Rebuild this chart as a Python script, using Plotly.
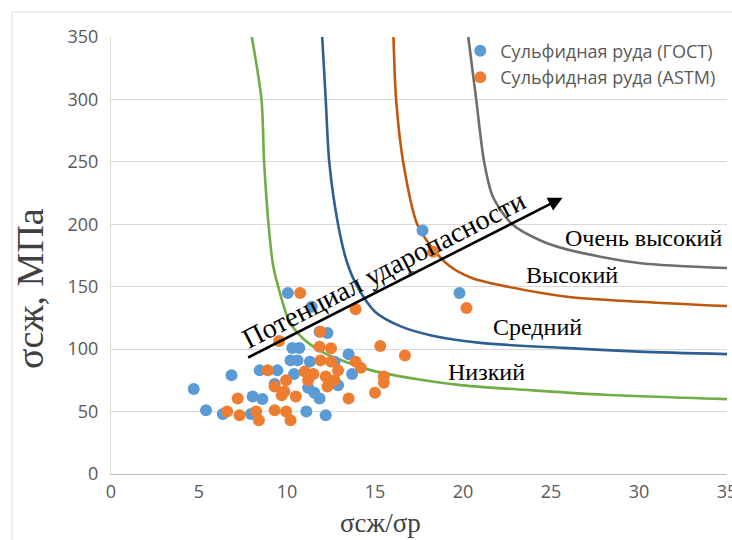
import plotly.graph_objects as go

# ---- data ----
gost_x = [4.7, 5.4, 6.35, 6.85, 7.95, 8.05, 8.6, 8.45, 9.45, 9.3, 10.05, 10.3, 10.7, 10.2, 10.6,
          10.4, 11.3, 11.4, 11.85, 12.3, 11.55, 11.85, 11.1, 12.2, 12.7, 12.9, 13.5, 13.7, 11.2,
          17.7, 19.8]
gost_y = [68, 51, 48, 79, 48, 62, 60, 83, 83, 72, 145, 101, 101, 91, 91,
          80, 90, 134, 114, 113, 65, 60.5, 50, 47, 90, 71, 96, 80, 69,
          195, 145]

astm_x = [6.6, 7.3, 7.2, 8.25, 8.4, 8.9, 9.55, 9.3, 9.85, 9.95, 9.3, 9.95, 10.2, 10.5, 10.75,
          11.0, 11.2, 11.9, 11.85, 12.5, 11.9, 12.5, 12.9, 12.2, 12.3, 13.9, 13.9, 14.2, 15.3,
          16.7, 15.5, 15.5, 15.0, 13.5, 18.3, 20.2, 11.5, 12.7, 9.7]
astm_y = [50, 47, 60.5, 50, 43, 83, 106.5, 70, 66, 75, 51, 50, 43, 62, 145,
          82, 75, 114, 102, 100.7, 91, 90, 83, 78, 70, 132, 90, 85, 102.5,
          95, 78, 73, 65, 60.5, 178, 133, 80, 75, 63]

low_x = [8.0, 8.55, 8.7, 8.95, 9.2, 9.5, 10.1, 10.6, 11.2, 12.1, 13.2, 14.8, 17.6, 20.0, 24.0, 28.0, 35.0]
low_y = [350, 300, 250, 200, 168, 150, 123, 113, 105, 97, 90.5, 83, 75.5, 71, 67, 63.5, 60]

mid_x = [12.0, 12.2, 12.4, 12.9, 13.4, 14.0, 15.0, 16.5, 18.2, 21.0, 25.7, 30.0, 35.0]
mid_y = [350, 300, 250, 200, 170, 150, 130, 118, 111, 105, 101, 98, 96]

high_x = [16.05, 16.2, 16.6, 17.4, 18.2, 19.2, 20.5, 22.2, 25.9, 30.0, 35.0]
high_y = [350, 300, 250, 200, 182, 167, 157, 151, 142, 138, 134.5]

vhigh_x = [20.3, 20.75, 21.2, 21.7, 22.8, 24.4, 26.0, 30.0, 35.0]
vhigh_y = [350, 300, 250, 222, 200, 187, 179.5, 169, 165]

x_ticks = [0, 5, 10, 15, 20, 25, 30, 35]
y_ticks = [0, 50, 100, 150, 200, 250, 300, 350]

curve_labels = ["Низкий", "Средний", "Высокий", "Очень высокий"]

# ---- figure ----
fig = go.Figure()

curves = [
    (low_x, low_y, "#70AD47"),
    (mid_x, mid_y, "#2E5F92"),
    (high_x, high_y, "#C0570F"),
    (vhigh_x, vhigh_y, "#6E6E6E"),
]
for cx, cy, col in curves:
    fig.add_trace(go.Scatter(x=cx, y=cy, mode="lines", showlegend=False, hoverinfo="skip",
                             line=dict(color=col, width=2.6, shape="spline", smoothing=0.8)))

fig.add_trace(go.Scatter(x=gost_x, y=gost_y, mode="markers", name="Сульфидная руда (ГОСТ)",
                         marker=dict(color="#5B9BD5", size=12)))
fig.add_trace(go.Scatter(x=astm_x, y=astm_y, mode="markers", name="Сульфидная руда (ASTM)",
                         marker=dict(color="#ED7D31", size=12)))

serif = "Liberation Serif, Times New Roman, serif"
ann = [
    dict(x=21.34, y=81.3, text=curve_labels[0]),
    dict(x=24.23, y=118, text=curve_labels[1]),
    dict(x=26.19, y=159, text=curve_labels[2]),
    dict(x=30.26, y=189.4, text=curve_labels[3]),
]
annotations = []
for a in ann:
    annotations.append(dict(x=a["x"], y=a["y"], xref="x", yref="y", text=a["text"], showarrow=False,
                            font=dict(family=serif, size=24, color="black")))

# arrow
annotations.append(dict(x=25.66, y=221.3, ax=7.71, ay=92.7, xref="x", yref="y", axref="x", ayref="y",
                        text="", showarrow=True, arrowhead=2, arrowsize=1.1, arrowwidth=2.6,
                        arrowcolor="black"))
annotations.append(dict(x=15.5, y=164, xref="x", yref="y", text="Потенциал ударопасности",
                        showarrow=False, textangle=-27,
                        font=dict(family=serif, size=28, color="black")))
# axis titles
annotations.append(dict(x=-0.1315, y=0.4256, xref="paper", yref="paper", text="σсж, МПа",
                        showarrow=False, textangle=-90, xanchor="center", yanchor="middle",
                        font=dict(family=serif, size=38, color="#404040")))
annotations.append(dict(x=0.4367, y=-0.112, xref="paper", yref="paper", text="σсж/σр",
                        showarrow=False, xanchor="center", yanchor="middle",
                        font=dict(family=serif, size=27, color="#404040")))

fig.update_layout(
    width=732, height=540, autosize=False,
    margin=dict(l=111, r=5, t=37, b=66, autoexpand=False),
    paper_bgcolor="white", plot_bgcolor="white",
    font=dict(family="Open Sans, sans-serif", size=17, color="#595959"),
    xaxis=dict(range=[0, 35], tickvals=x_ticks, showgrid=False, zeroline=False, automargin=False,
               showline=True, linecolor="#BFBFBF", linewidth=1, ticks="",
               ticklabelstandoff=1, ticklabeloverflow="allow",
               tickfont=dict(size=18, color="#595959")),
    yaxis=dict(range=[0, 350], tickvals=y_ticks, showgrid=True, gridcolor="#D9D9D9", gridwidth=1,
               zeroline=False, automargin=False, showline=True, linecolor="#D9D9D9", linewidth=1,
               ticks="", ticklabelstandoff=8, tickfont=dict(size=18, color="#595959")),
    legend=dict(x=0.567, y=1.01, xanchor="left", yanchor="top", bgcolor="rgba(255,255,255,0)",
                font=dict(family="Open Sans, sans-serif", size=18, color="#595959"),
                tracegroupgap=0, itemsizing="constant"),
    annotations=annotations,
    shapes=[dict(type="rect", xref="paper", yref="paper", x0=-0.1607, x1=1.3, y0=-0.4, y1=1.0572,
                 line=dict(color="#D9D9D9", width=1), fillcolor="rgba(0,0,0,0)", layer="below")],
)

fig.write_html("out.html", config={"responsive": False, "displayModeBar": False},
               post_script="document.body.style.margin='0';document.body.style.overflow='hidden';")
